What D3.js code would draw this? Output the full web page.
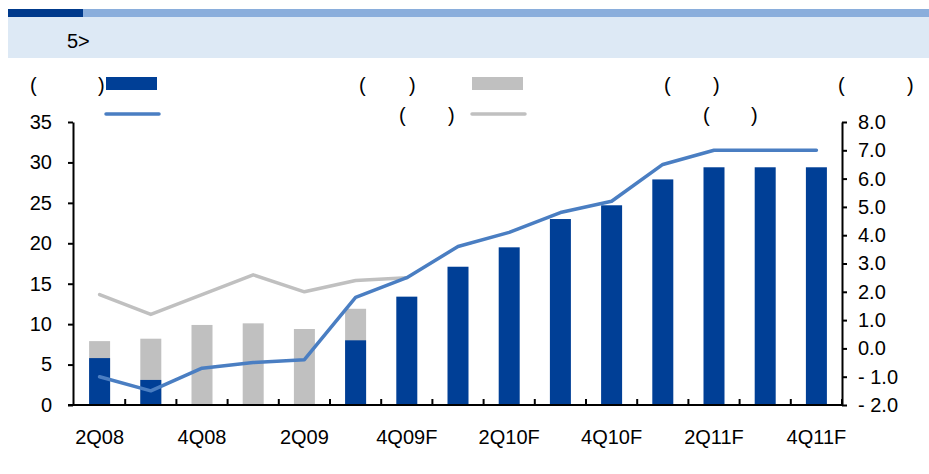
<!DOCTYPE html>
<html>
<head>
<meta charset="utf-8">
<script src="https://cdn.jsdelivr.net/npm/d3@7"></script>
<style>
  html, body { margin: 0; padding: 0; background: #fff; }
  svg { display: block; font-family: "Liberation Sans", Arial, sans-serif; }
</style>
</head>
<body>
<div id="chart"></div>
<script>
const categories = ['2Q08', '3Q08', '4Q08', '1Q09', '2Q09', '3Q09', '4Q09F', '1Q10F', '2Q10F', '3Q10F', '4Q10F', '1Q11F', '2Q11F', '3Q11F', '4Q11F'];
const blueBars = [5.8, 3.1, 0, 0, 0, 8.0, 13.4, 17.1, 19.5, 23.0, 24.7, 27.9, 29.4, 29.4, 29.4];
const grayBars = [7.9, 8.2, 9.9, 10.1, 9.4, 11.9, null, null, null, null, null, null, null, null, null];
const blueLine = [-1.0, -1.5, -0.7, -0.5, -0.4, 1.8, 2.5, 3.6, 4.1, 4.8, 5.2, 6.5, 7.0, 7.0, 7.0];
const grayLine = [1.9, 1.2, 1.9, 2.6, 2.0, 2.4, 2.5, null, null, null, null, null, null, null, null];
const leftTicks = [0, 5, 10, 15, 20, 25, 30, 35];
const rightTicks = [-2, -1, 0, 1, 2, 3, 4, 5, 6, 7, 8];
const xLabels = ['2Q08', '4Q08', '2Q09', '4Q09F', '2Q10F', '4Q10F', '2Q11F', '4Q11F'];

const W = 929, H = 474;
const C = { dark: '#003f96', gray: '#c0c0c0', line: '#4a7ec2', grayLine: '#c0c0c0' };
const FS = 20;

const svg = d3.select('#chart').append('svg')
  .attr('width', W).attr('height', H);

// header band
svg.append('rect').attr('x', 8).attr('y', 17).attr('width', W - 8).attr('height', 41).attr('fill', '#dde9f5');
svg.append('rect').attr('x', 83).attr('y', 9).attr('width', W - 83).attr('height', 8).attr('fill', '#8aaedc');
svg.append('rect').attr('x', 8).attr('y', 9).attr('width', 75).attr('height', 8).attr('fill', '#003a8c');
svg.append('text').attr('x', 67).attr('y', 48).attr('font-size', 20).attr('fill', '#000').text('5>');

const x = d3.scaleBand().domain(categories).range([74, 842]).paddingInner(0).paddingOuter(0);
const barW = 21;
const yL = d3.scaleLinear().domain([0, 35]).range([405, 122]);
const yR = d3.scaleLinear().domain([-2, 8]).range([405, 122]);
const cx = d => x(d) + x.bandwidth() / 2;

// bars: gray behind, blue in front
svg.append('g').selectAll('rect')
  .data(categories.map((c, i) => ({ c, v: grayBars[i] })).filter(d => d.v != null))
  .enter().append('rect')
  .attr('x', d => cx(d.c) - barW / 2)
  .attr('y', d => yL(d.v))
  .attr('width', barW)
  .attr('height', d => yL(0) - yL(d.v))
  .attr('fill', C.gray);

svg.append('g').selectAll('rect')
  .data(categories.map((c, i) => ({ c, v: blueBars[i] })).filter(d => d.v > 0))
  .enter().append('rect')
  .attr('x', d => cx(d.c) - barW / 2)
  .attr('y', d => yL(d.v))
  .attr('width', barW)
  .attr('height', d => yL(0) - yL(d.v))
  .attr('fill', C.dark);

// lines
const lineGen = d3.line()
  .defined(d => d.v != null)
  .x(d => cx(d.c))
  .y(d => yR(d.v));

svg.append('path')
  .datum(categories.map((c, i) => ({ c, v: grayLine[i] })))
  .attr('d', lineGen)
  .attr('fill', 'none').attr('stroke', C.grayLine).attr('stroke-width', 3.5)
  .attr('stroke-linecap', 'round').attr('stroke-linejoin', 'round');

svg.append('path')
  .datum(categories.map((c, i) => ({ c, v: blueLine[i] })))
  .attr('d', lineGen)
  .attr('fill', 'none').attr('stroke', C.line).attr('stroke-width', 3.5)
  .attr('stroke-linecap', 'round').attr('stroke-linejoin', 'round');

// axes
const styleAxis = g => {
  g.select('.domain').attr('stroke', '#000').attr('stroke-width', 2);
  g.selectAll('.tick line').attr('stroke', '#000').attr('stroke-width', 2);
  g.selectAll('.tick text').attr('font-size', FS).attr('fill', '#000')
    .attr('font-family', '"Liberation Sans", Arial, sans-serif');
};

svg.append('g')
  .attr('transform', 'translate(73,0)')
  .call(d3.axisLeft(yL).tickValues(leftTicks).tickSize(5).tickSizeOuter(0).tickPadding(16))
  .call(styleAxis);

svg.append('g')
  .attr('transform', 'translate(842,0)')
  .call(d3.axisRight(yR).tickValues(rightTicks).tickSize(5).tickSizeOuter(0).tickPadding(11)
    .tickFormat(d => d < 0 ? '- ' + d3.format('.1f')(-d) : d3.format('.1f')(d)))
  .call(styleAxis);

// x axis line and inner ticks at category boundaries
const xg = svg.append('g');
xg.append('line').attr('x1', 68).attr('x2', 842).attr('y1', 405).attr('y2', 405)
  .attr('stroke', '#000').attr('stroke-width', 2);
xg.selectAll('line.t')
  .data(categories.slice(1).concat(['end']))
  .enter().append('line').attr('class', 't')
  .attr('x1', d => d === 'end' ? 842 : x(d)).attr('x2', d => d === 'end' ? 842 : x(d))
  .attr('y1', 405).attr('y2', 399)
  .attr('stroke', '#000').attr('stroke-width', 2);
xg.selectAll('text')
  .data(xLabels)
  .enter().append('text')
  .attr('x', d => cx(d)).attr('y', 444)
  .attr('text-anchor', 'middle').attr('font-size', FS).attr('fill', '#000')
  .text(d => d);

// legend (labels appear only as parentheses)
const paren = (x0, y0, txt) => svg.append('text').attr('x', x0).attr('y', y0)
  .attr('font-size', FS).attr('fill', '#000').text(txt);
const row1 = 92, row2 = 122;
paren(30, row1, '('); paren(98, row1, ')');
svg.append('rect').attr('x', 106).attr('y', 77).attr('width', 51).attr('height', 13).attr('fill', C.dark);
paren(359, row1, '('); paren(409, row1, ')');
svg.append('rect').attr('x', 472).attr('y', 77).attr('width', 51).attr('height', 13).attr('fill', C.gray);
paren(664, row1, '('); paren(713, row1, ')');
paren(838, row1, '('); paren(907, row1, ')');

svg.append('line').attr('x1', 106).attr('x2', 159).attr('y1', 114).attr('y2', 114)
  .attr('stroke', C.line).attr('stroke-width', 3.5).attr('stroke-linecap', 'round');
paren(399, row2, '('); paren(448, row2, ')');
svg.append('line').attr('x1', 472).attr('x2', 525).attr('y1', 114).attr('y2', 114)
  .attr('stroke', C.grayLine).attr('stroke-width', 3.5).attr('stroke-linecap', 'round');
paren(703, row2, '('); paren(751, row2, ')');
</script>
</body>
</html>
